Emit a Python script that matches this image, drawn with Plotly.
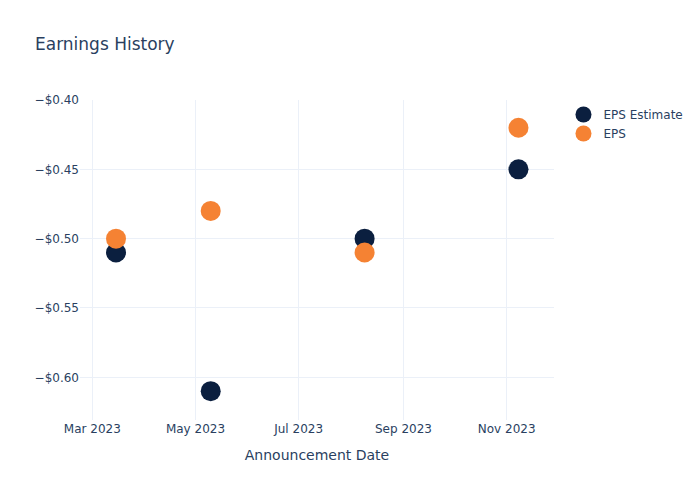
import plotly.graph_objects as go

dates = ["2023-03-15", "2023-05-10", "2023-08-09", "2023-11-08"]
eps_estimate = [-0.51, -0.61, -0.50, -0.45]
eps_actual = [-0.50, -0.48, -0.51, -0.42]

fig = go.Figure()
fig.add_trace(go.Scatter(x=dates, y=eps_estimate, mode="markers", name="EPS Estimate",
                         marker=dict(color="#0b1f3f", size=20)))
fig.add_trace(go.Scatter(x=dates, y=eps_actual, mode="markers", name="EPS",
                         marker=dict(color="#f58233", size=20)))
fig.update_layout(
    template="plotly_white",
    width=700, height=500,
    title=dict(text="Earnings History"),
    font=dict(family="DejaVu Sans"),
    xaxis=dict(title="Announcement Date", tickformat="%b %Y", dtick="M2",
               range=["2023-02-21 17:00", "2023-11-29 00:00"]),
    yaxis=dict(tickformat="$.2f", range=[-0.6308, -0.40]),
)
fig.write_html("out.html")
